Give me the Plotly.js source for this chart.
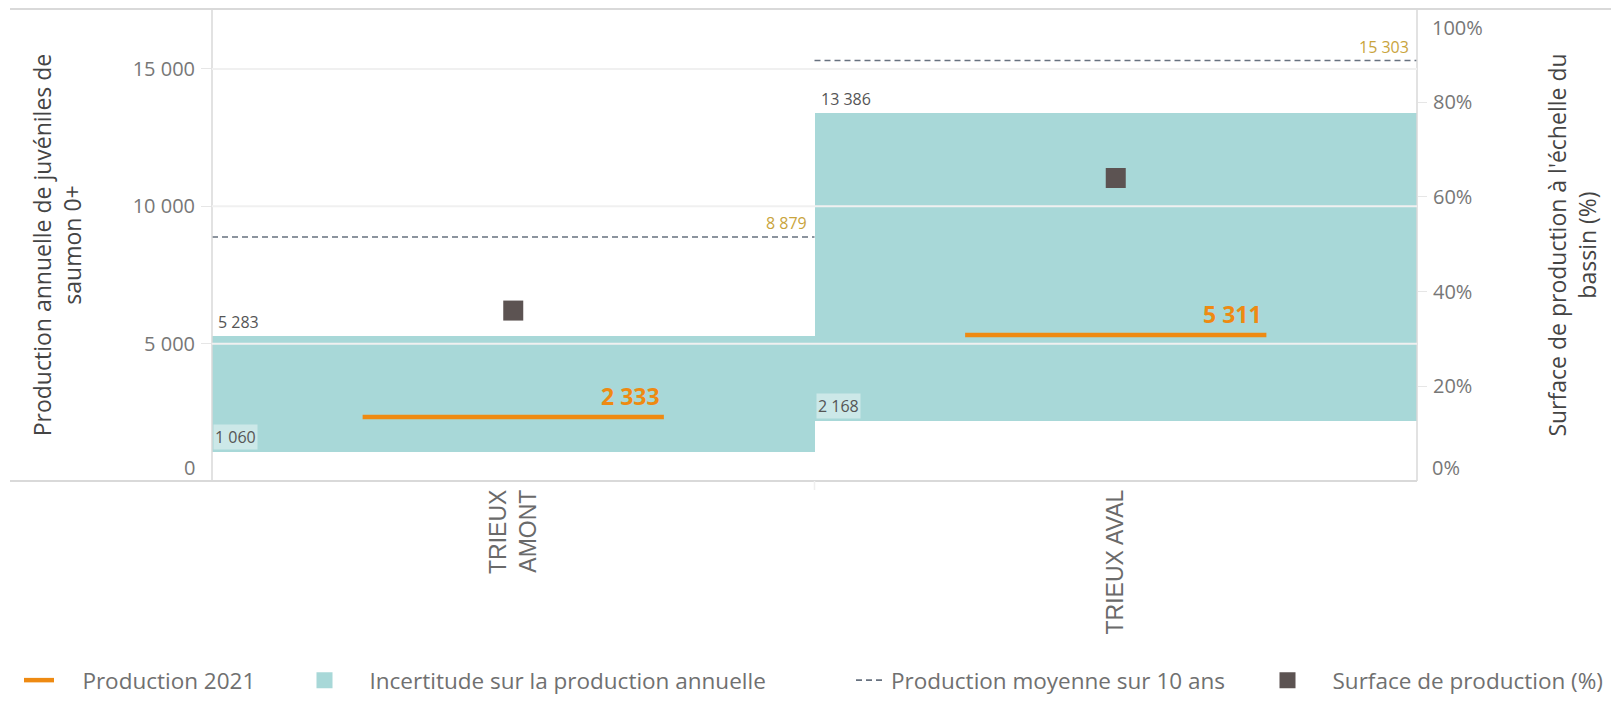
<!DOCTYPE html>
<html>
<head>
<meta charset="utf-8">
<script src="https://cdn.plot.ly/plotly-3.0.1.min.js"></script>
<style>html,body{margin:0;padding:0;background:#fff;}#chart{width:1611px;height:703px;}</style>
</head>
<body>
<div id="chart"></div>
<script>
// ---- data ----
const categories = ["TRIEUX<br>AMONT", "TRIEUX AVAL"];
const production2021 = [2333, 5311];
const incertLow = [1060, 2168];
const incertHigh = [5283, 13386];
const moyenne10ans = [8879, 15303];
const surfacePct = [36, 64];
const leftTicks = [0, 5000, 10000, 15000];
const leftTickText = ["0", "5 000", "10 000", "15 000"];
const rightTicks = [0, 20, 40, 60, 80, 100];
const rightTickText = ["0%", "20%", "40%", "60%", "80%", "100%"];
const legendNames = ["Production 2021", "Incertitude sur la production annuelle",
                     "Production moyenne sur 10 ans", "Surface de production (%)"];

const fmt = v => String(v).replace(/\B(?=(\d{3})+(?!\d))/g, " ");
const idx = categories.map((c, i) => i);

const FONT = "Open Sans, DejaVu Sans, sans-serif";
const TEAL = "#A8D8D8", ORANGE = "#EE8A12", DASH = "#67717F", SQ = "#5C5352";
const TICKCOL = "#777777", TITLECOL = "#444444";
const NB = "\u00a0";

// plot box in pixels
const W = 1611, H = 703, L = 212, R = 194, T = 9, B = 222;
const PW = W - L - R, PH = H - T - B;
const px2x = p => (p - L) / PW;
const px2y = p => (H - B - p) / PH;

// segments
const prodX = [], prodY = [], avgX = [], avgY = [];
idx.forEach(i => {
  prodX.push(i - 0.25, i + 0.25, null); prodY.push(production2021[i], production2021[i], null);
  avgX.push(i - 0.5, i + 0.5, null); avgY.push(moyenne10ans[i], moyenne10ans[i], null);
});

const traces = [
  {type: "bar", name: legendNames[1], x: idx, showlegend: false,
   base: incertLow, y: idx.map(i => incertHigh[i] - incertLow[i]), width: 1,
   marker: {color: TEAL, line: {width: 0}}, hoverinfo: "skip"},
  {type: "scatter", mode: "lines", name: legendNames[2], x: avgX, y: avgY, legend: "legend3",
   line: {color: DASH, width: 1.6, dash: "6px,4px"}, hoverinfo: "skip"},
  {type: "scatter", mode: "lines", name: NB.repeat(4) + legendNames[0], x: prodX, y: prodY, legend: "legend",
   line: {color: ORANGE, width: 4.5}, hoverinfo: "skip"},
  {type: "scatter", mode: "markers", name: legendNames[3], x: idx, y: surfacePct, legend: "legend4",
   yaxis: "y2", marker: {symbol: "square", size: 20, color: SQ}, hoverinfo: "skip"},
  // legend entry for the uncertainty band (drawn by the bar trace above)
  {type: "scatter", mode: "markers", name: legendNames[1], x: [null], y: [null], legend: "legend2",
   marker: {symbol: "square", size: 24, color: TEAL}, hoverinfo: "skip"}
];

const annotations = [];
const small = {family: FONT, size: 16, color: "#555"};
idx.forEach(i => {
  annotations.push({x: i - 0.5, y: incertHigh[i], xref: "x", yref: "y", text: fmt(incertHigh[i]),
    showarrow: false, xanchor: "left", yanchor: "bottom", xshift: 4, yshift: 1, font: small});
  annotations.push({x: i - 0.5, y: incertLow[i], xref: "x", yref: "y", text: fmt(incertLow[i]),
    showarrow: false, xanchor: "left", yanchor: "bottom", xshift: 1, yshift: 2,
    bgcolor: "rgba(255,255,255,0.42)", borderpad: 1,
    font: small});
  annotations.push({x: i + 0.5, y: moyenne10ans[i], xref: "x", yref: "y", text: fmt(moyenne10ans[i]),
    showarrow: false, xanchor: "right", yanchor: "bottom", xshift: -6, yshift: 1,
    font: {family: FONT, size: 16, color: "#C9A43C"}});
  annotations.push({x: i + 0.25, y: production2021[i], xref: "x", yref: "y", text: "<b>" + fmt(production2021[i]) + "</b>",
    showarrow: false, xanchor: "right", yanchor: "bottom", xshift: -2, yshift: 3,
    font: {family: FONT, size: 23, color: ORANGE}});
});
// edge tick labels, kept inside the plot height as in the reference
annotations.push({xref: "paper", yref: "paper", x: px2x(197), y: px2y(467), text: leftTickText[0],
  showarrow: false, xanchor: "right", yanchor: "middle", font: {family: FONT, size: 20, color: TICKCOL}});
annotations.push({xref: "paper", yref: "paper", x: px2x(1430), y: px2y(467), text: rightTickText[0],
  showarrow: false, xanchor: "left", yanchor: "middle", font: {family: FONT, size: 20, color: TICKCOL}});
annotations.push({xref: "paper", yref: "paper", x: px2x(1430), y: px2y(27), text: rightTickText[5],
  showarrow: false, xanchor: "left", yanchor: "middle", font: {family: FONT, size: 20, color: TICKCOL}});

const BORDER = "#D9D9D9";
const shapes = [
  {type: "line", xref: "paper", yref: "paper", x0: px2x(10), x1: px2x(1611), y0: 1, y1: 1, line: {color: BORDER, width: 2}},
  {type: "line", xref: "paper", yref: "paper", x0: px2x(10), x1: 1, y0: 0, y1: 0, line: {color: BORDER, width: 2}},
  {type: "line", xref: "paper", yref: "paper", x0: 0, x1: 0, y0: 0, y1: 1, line: {color: BORDER, width: 1.5}},
  {type: "line", xref: "paper", yref: "paper", x0: 1, x1: 1, y0: 0, y1: 1, line: {color: BORDER, width: 1.5}},
  {type: "line", xref: "paper", yref: "paper", x0: 0.5, x1: 0.5, y0: 0, y1: px2y(490), line: {color: "#EFEFEF", width: 1.5}}
];
// gridlines drawn above the bars (as in the reference)
leftTicks.filter(v => v > 0).forEach(v => shapes.push({type: "line", xref: "paper", yref: "y", x0: 0, x1: 1, y0: v, y1: v,
  layer: "above", line: {color: "#F0F0F0", width: 2}}));

const legFont = {family: FONT, size: 22.5, color: "#707070"};
const legY = px2y(702);
const mkLeg = (xpx, iw) => ({orientation: "h", x: px2x(xpx), xanchor: "left", y: legY, yanchor: "bottom",
  font: legFont, itemwidth: iw, bgcolor: "rgba(0,0,0,0)", borderwidth: 0});

const layout = {
  width: W, height: H,
  margin: {l: L, r: R, t: T, b: B, autoexpand: false},
  paper_bgcolor: "#fff", plot_bgcolor: "#fff",
  font: {family: FONT, color: "#666"},
  showlegend: true,
  legend: mkLeg(19, 30),
  legend2: mkLeg(279.5, 80),
  legend3: mkLeg(851, 30),
  legend4: mkLeg(1242.5, 80),
  bargap: 0,
  xaxis: {type: "linear", range: [-0.5, 1.5], tickvals: idx, ticktext: categories, tickangle: -90,
    showgrid: false, zeroline: false, showline: false, ticks: "", ticklabelstandoff: 3,
    tickfont: {family: "Liberation Sans, Arial, sans-serif", size: 23, color: "#6a6a6a"}, fixedrange: true},
  yaxis: {range: [0, 17180], tickvals: leftTicks, ticktext: ["", ...leftTickText.slice(1)], showgrid: false, zeroline: false,
    showline: false, ticks: "outside", ticklen: 10, tickcolor: "#E6E6E6", ticklabelstandoff: 2,
    tickfont: {family: FONT, size: 20, color: TICKCOL},
    title: {text: "Production annuelle de juvéniles de<br>saumon 0+", standoff: 44,
      font: {family: FONT, size: 23, color: TITLECOL}}},
  yaxis2: {overlaying: "y", side: "right", range: [0, 99.7], tickvals: rightTicks.slice(1, 5), ticktext: rightTickText.slice(1, 5),
    showgrid: false, zeroline: false, showline: false, ticks: "outside", ticklen: 9, tickcolor: "#E6E6E6",
    ticklabelstandoff: 2,
    tickfont: {family: FONT, size: 20, color: TICKCOL},
    title: {text: "Surface de production à l'échelle du<br>bassin (%)", standoff: 78,
      font: {family: FONT, size: 23, color: TITLECOL}}},
  annotations: annotations,
  shapes: shapes
};

Plotly.newPlot("chart", traces, layout, {displayModeBar: false, staticPlot: true});
</script>
</body>
</html>
